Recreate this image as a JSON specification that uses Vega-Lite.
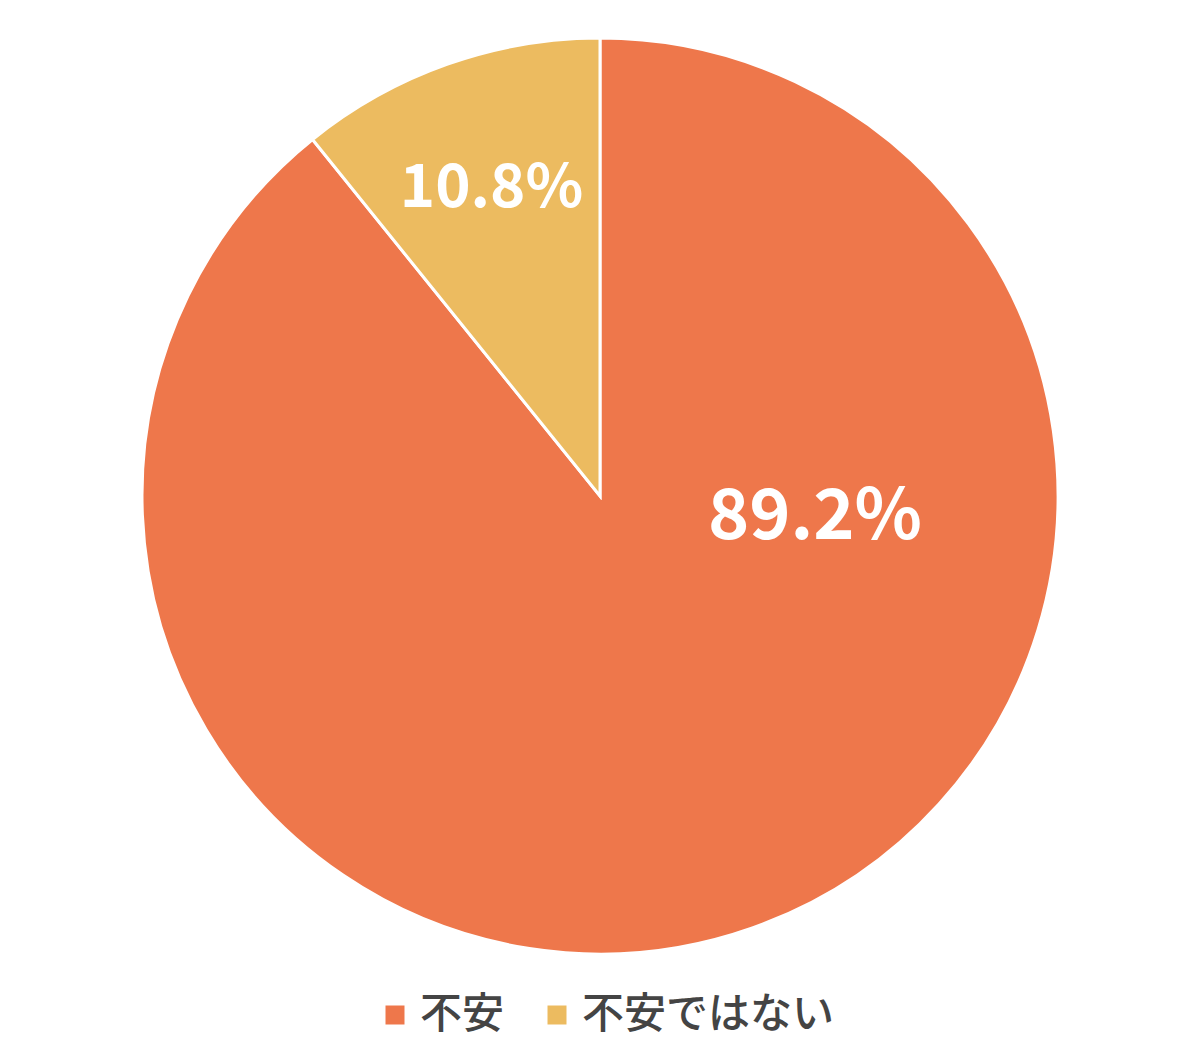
{
  "$schema": "https://vega.github.io/schema/vega-lite/v6.json",
  "width": 916,
  "height": 916,
  "autosize": "none",
  "padding": {"left": 142, "top": 38, "right": 142, "bottom": 87},
  "background": "white",
  "view": {"stroke": null},
  "data": {
    "values": [
      {"category": "不安", "value": 89.2, "label": "89.2%"},
      {"category": "不安ではない", "value": 10.8, "label": "10.8%"}
    ]
  },
  "encoding": {
    "theta": {"field": "value", "type": "quantitative", "stack": true},
    "order": {"field": "category", "sort": "ascending"}
  },
  "layer": [
    {
      "mark": {"type": "arc", "outerRadius": 458, "stroke": "white", "strokeWidth": 3},
      "encoding": {
        "color": {
          "field": "category",
          "type": "nominal",
          "scale": {"domain": ["不安", "不安ではない"], "range": ["#EE774B", "#ECBB60"]},
          "legend": {
            "orient": "none",
            "legendX": 232,
            "legendY": 956,
            "direction": "horizontal",
            "title": null,
            "symbolType": "square",
            "symbolSize": 361,
            "symbolStrokeWidth": 0,
            "labelFontSize": 42,
            "labelFont": "Noto Sans CJK JP",
            "labelFontWeight": 500,
            "labelColor": "#444444",
            "labelOffset": 4,
            "labelLimit": 0,
            "columnPadding": 31
          }
        }
      }
    },
    {
      "mark": {"type": "text", "radius": 216, "thetaOffset": -1.131, "fontSize": 70, "fontWeight": "bold", "font": "Noto Sans CJK JP", "fill": "white"},
      "encoding": {
        "text": {"condition": {"test": "datum.category === '不安'", "field": "label"}, "value": ""}
      }
    },
    {
      "mark": {"type": "text", "radius": 326, "fontSize": 60, "fontWeight": "bold", "font": "Noto Sans CJK JP", "fill": "white"},
      "encoding": {
        "text": {"condition": {"test": "datum.category === '不安ではない'", "field": "label"}, "value": ""}
      }
    }
  ]
}
